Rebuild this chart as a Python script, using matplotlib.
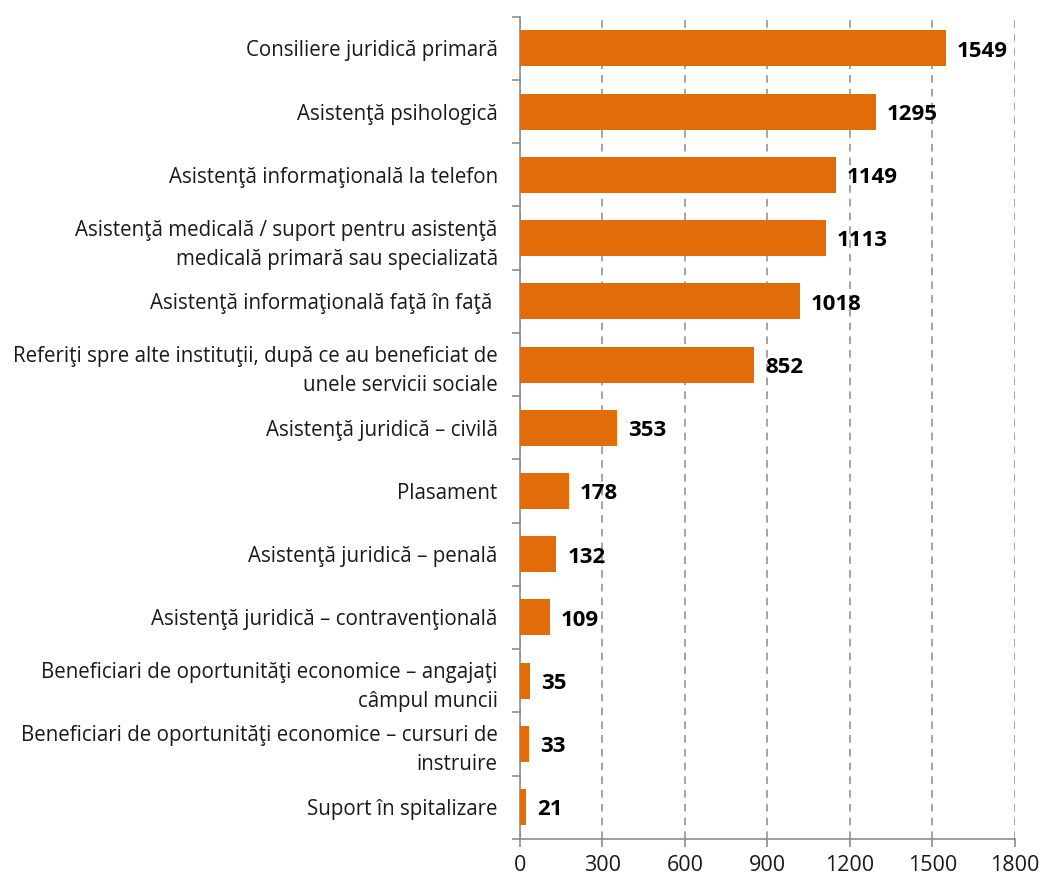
import matplotlib
matplotlib.use("Agg")
import matplotlib.pyplot as plt
from matplotlib.ticker import FixedLocator

categories = [
    "Consiliere juridică primară",
    "Asistenţă psihologică",
    "Asistenţă informaţională la telefon",
    "Asistenţă medicală / suport pentru asistenţă\nmedicală primară sau specializată",
    "Asistenţă informaţională faţă în faţă ",
    "Referiţi spre alte instituţii, după ce au beneficiat de\nunele servicii sociale",
    "Asistenţă juridică – civilă",
    "Plasament",
    "Asistenţă juridică – penală",
    "Asistenţă juridică – contravenţională",
    "Beneficiari de oportunităţi economice – angajaţi\ncâmpul muncii",
    "Beneficiari de oportunităţi economice – cursuri de\ninstruire",
    "Suport în spitalizare",
]
values = [1549, 1295, 1149, 1113, 1018, 852, 353, 178, 132, 109, 35, 33, 21]
xticks = [0, 300, 600, 900, 1200, 1500, 1800]

plt.rcParams['font.family'] = ['Open Sans', 'DejaVu Sans']

fig = plt.figure(figsize=(10.42, 8.82), dpi=100)
ax = fig.add_axes([0.499, 0.049, 0.475, 0.932])

n = len(categories)
ypos = list(range(n))
ax.barh(ypos, values, height=0.57, color='#E36C0A', zorder=3)
ax.set_ylim(n - 0.5, -0.5)
ax.set_xlim(0, 1800)

for y, v in zip(ypos, values):
    ax.annotate(str(v), (v, y), xytext=(8, -2), textcoords='offset points',
                ha='left', va='center', fontsize=16, fontweight='bold', color='black', zorder=4)

ax.set_yticks(ypos)
ax.set_yticklabels(categories, fontsize=14.8, color='#1a1a1a', linespacing=1.5)
ax.yaxis.set_minor_locator(FixedLocator([i - 0.5 for i in range(n + 1)]))
ax.tick_params(axis='y', which='major', length=0, pad=16)
ax.tick_params(axis='y', which='minor', length=6, color='#8c8c8c', width=1.2)

ax.set_xticks(xticks)
ax.set_xticklabels([str(t) for t in xticks], fontsize=15.5, color='#1a1a1a')
ax.tick_params(axis='x', length=6, color='#8c8c8c', width=1.2, pad=6)

ax.grid(axis='x', linestyle=(0, (5, 4)), color='#8c8c8c', linewidth=1.1, zorder=0)
for s in ['top', 'right']:
    ax.spines[s].set_visible(False)
for s in ['left', 'bottom']:
    ax.spines[s].set_color('#8c8c8c')
    ax.spines[s].set_linewidth(1.2)

fig.savefig('out.png', dpi=100)
